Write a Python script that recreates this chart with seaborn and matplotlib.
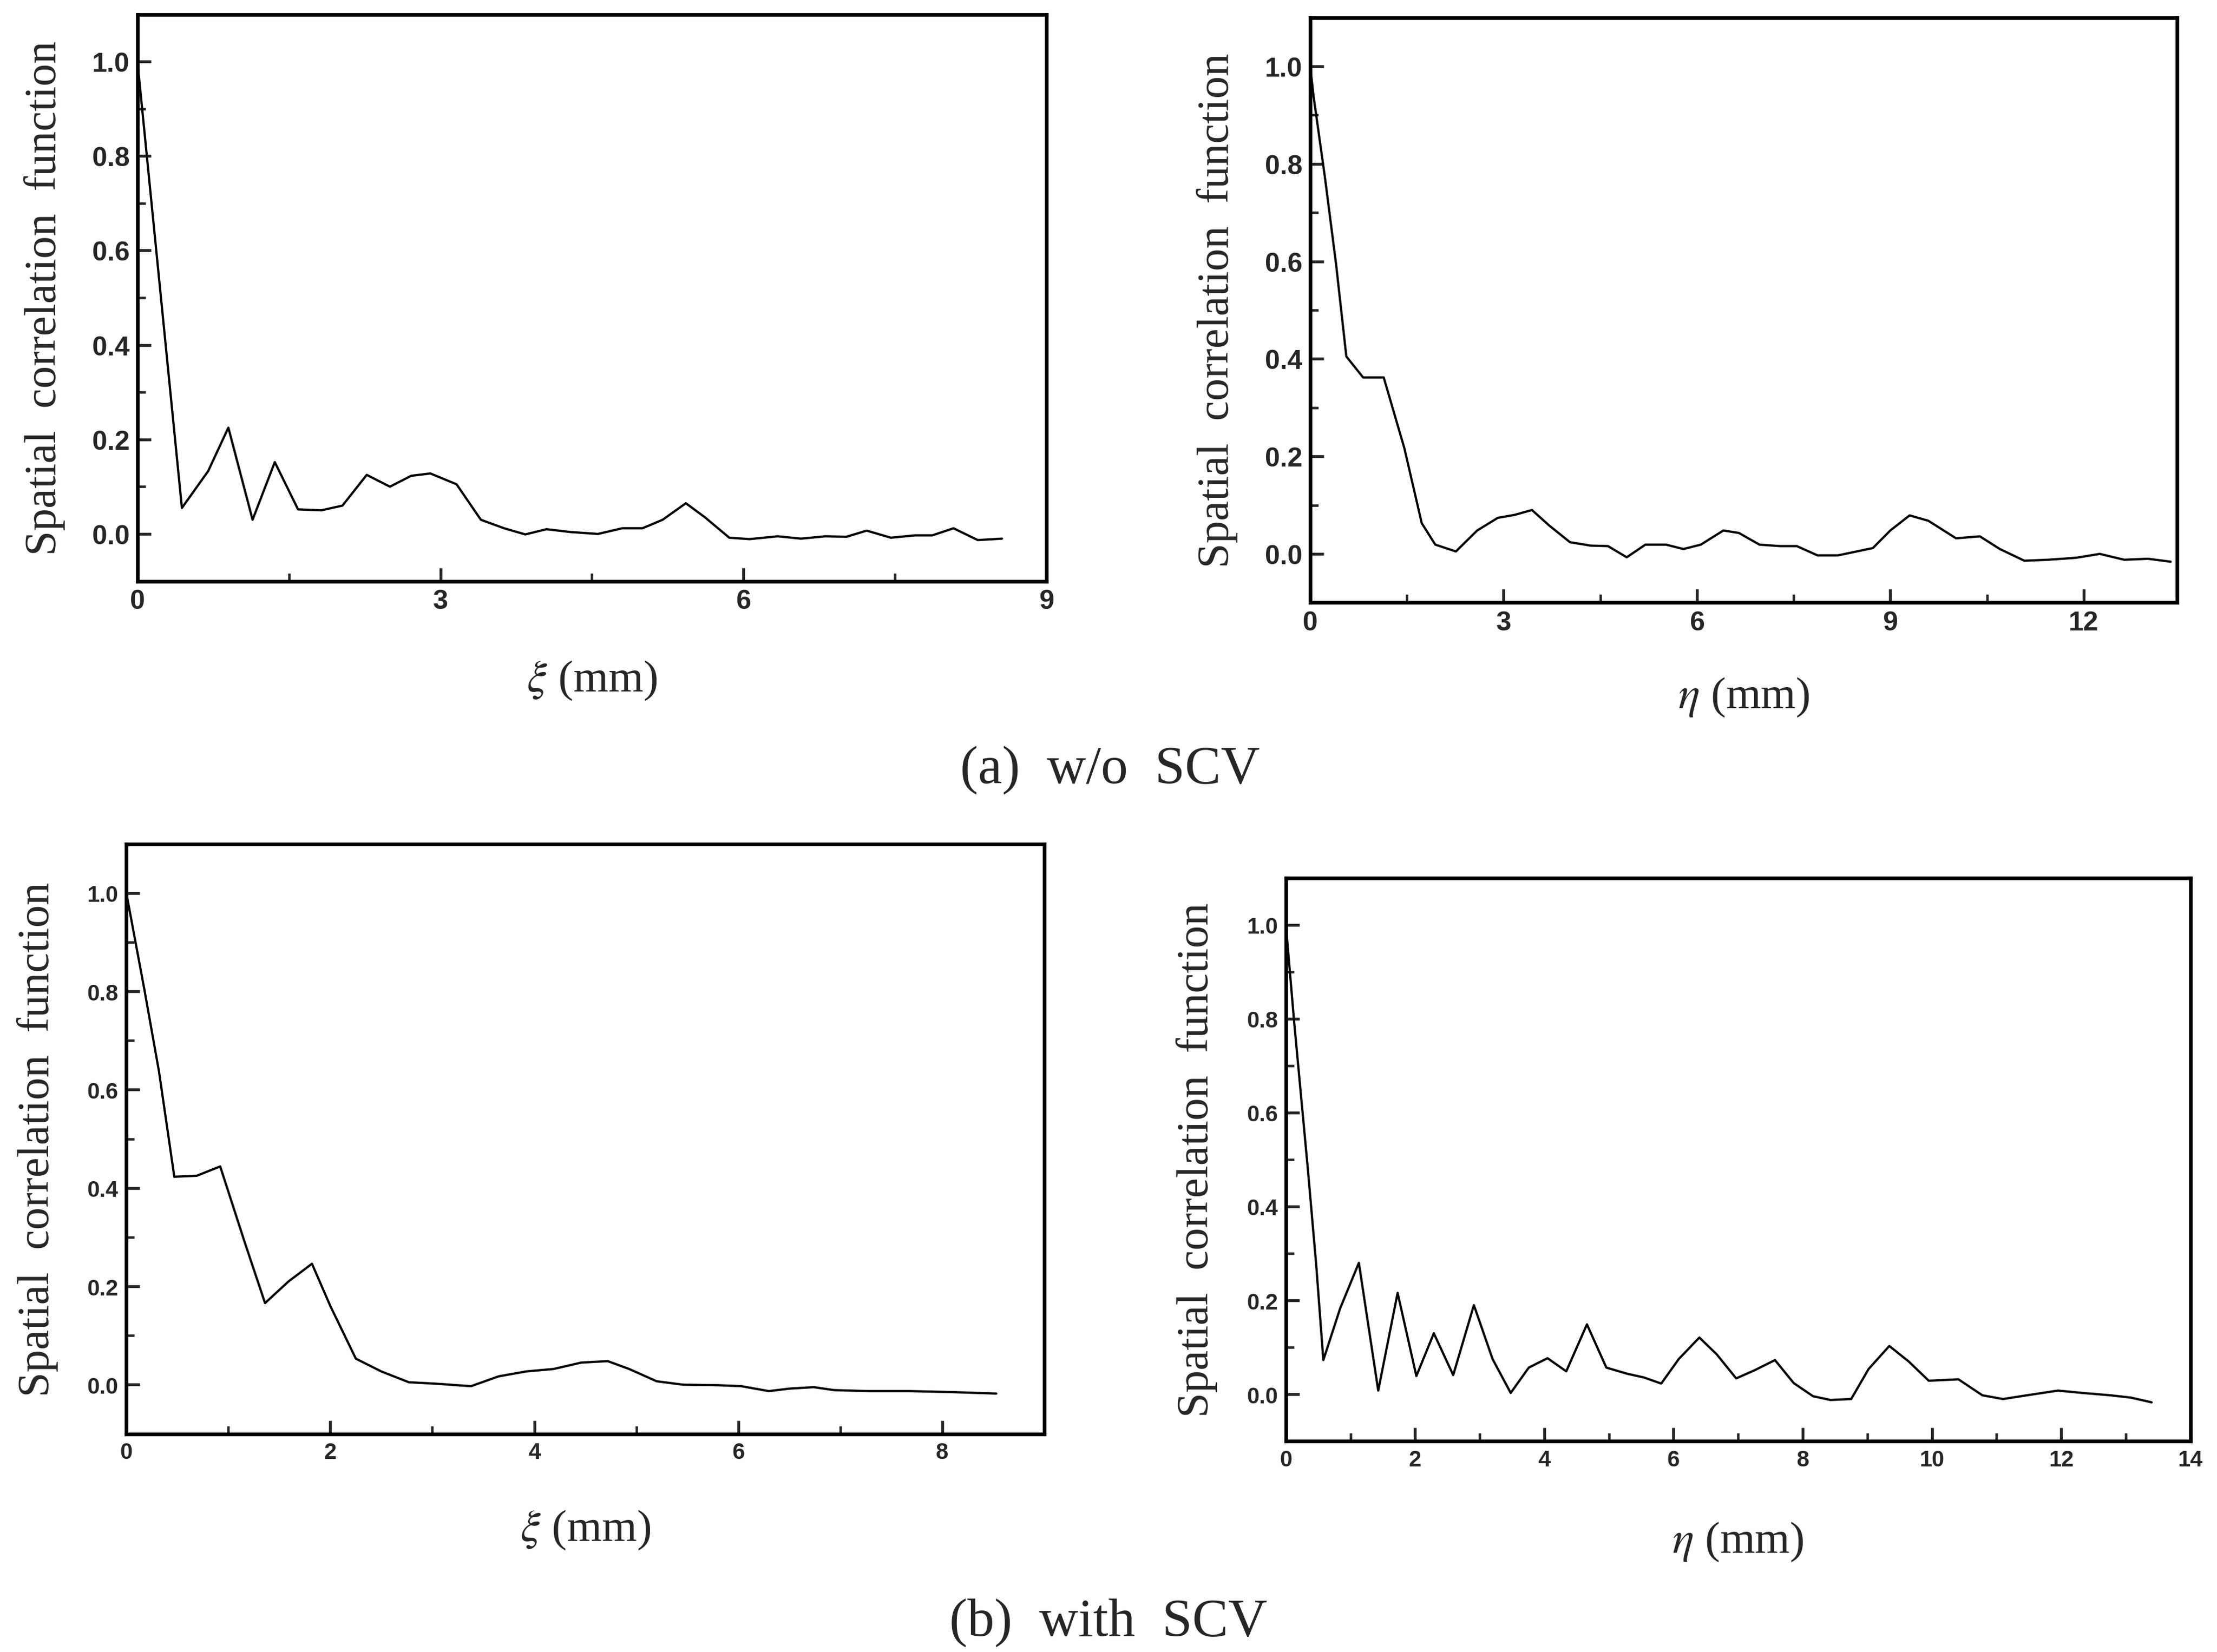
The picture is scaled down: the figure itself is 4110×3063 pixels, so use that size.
import matplotlib
matplotlib.use('Agg')
import matplotlib.pyplot as plt
import seaborn as sns
import pandas as pd
from matplotlib.ticker import MultipleLocator

# (a) w/o SCV, direction xi
xi_a = [0.0, 0.44, 0.70, 0.90, 1.14, 1.36, 1.59, 1.82, 2.03, 2.27, 2.50, 2.71, 2.90, 3.16, 3.40,
        3.63, 3.84, 4.05, 4.29, 4.56, 4.80, 5.00, 5.20, 5.43, 5.62, 5.86, 6.06, 6.34, 6.57, 6.81,
        7.02, 7.22, 7.46, 7.70, 7.87, 8.08, 8.32, 8.56]
r_xi_a = [1.0, 0.055, 0.133, 0.225, 0.03, 0.152, 0.052, 0.05, 0.06, 0.125, 0.10, 0.123, 0.128, 0.105, 0.03,
          0.012, -0.001, 0.01, 0.004, 0.0, 0.012, 0.012, 0.03, 0.065, 0.035, -0.008, -0.011, -0.005, -0.01, -0.005,
          -0.006, 0.007, -0.008, -0.003, -0.003, 0.012, -0.013, -0.01]

# (a) w/o SCV, direction eta
eta_a = [0.0, 0.05, 0.23, 0.40, 0.56, 0.82, 1.14, 1.46, 1.73, 1.94, 2.26, 2.59, 2.91, 3.17, 3.44,
         3.71, 4.03, 4.35, 4.62, 4.91, 5.20, 5.52, 5.79, 6.06, 6.41, 6.65, 6.97, 7.29, 7.55, 7.87,
         8.19, 8.73, 9.00, 9.30, 9.59, 10.02, 10.39, 10.70, 11.08, 11.45, 11.88, 12.25, 12.63, 13.00, 13.35]
r_eta_a = [1.0, 0.94, 0.77, 0.595, 0.405, 0.362, 0.362, 0.217, 0.063, 0.019, 0.005, 0.048, 0.074, 0.08, 0.09,
           0.058, 0.024, 0.017, 0.016, -0.007, 0.019, 0.019, 0.01, 0.019, 0.048, 0.043, 0.019, 0.016, 0.016, -0.003,
           -0.003, 0.012, 0.048, 0.079, 0.068, 0.032, 0.036, 0.01, -0.014, -0.012, -0.008, 0.0, -0.012, -0.01, -0.016]

# (b) with SCV, direction xi
xi_b = [0.0, 0.18, 0.32, 0.47, 0.69, 0.92, 1.16, 1.36, 1.59, 1.82, 2.00, 2.25, 2.50, 2.77, 3.04,
        3.38, 3.65, 3.92, 4.19, 4.46, 4.72, 4.93, 5.20, 5.46, 5.80, 6.03, 6.30, 6.50, 6.74, 6.94,
        7.28, 7.68, 8.09, 8.53]
r_xi_b = [1.0, 0.80, 0.637, 0.423, 0.425, 0.444, 0.29, 0.166, 0.21, 0.246, 0.16, 0.053, 0.027, 0.005, 0.002,
          -0.003, 0.017, 0.027, 0.032, 0.045, 0.048, 0.032, 0.007, 0.0, -0.001, -0.003, -0.013, -0.008, -0.005, -0.011,
          -0.013, -0.013, -0.015, -0.018]

# (b) with SCV, direction eta
eta_b = [0.0, 0.13, 0.34, 0.47, 0.58, 0.84, 1.13, 1.43, 1.73, 2.02, 2.29, 2.59, 2.91, 3.20, 3.48,
         3.76, 4.05, 4.34, 4.66, 4.96, 5.28, 5.54, 5.81, 6.08, 6.40, 6.67, 6.97, 7.25, 7.57, 7.86,
         8.16, 8.43, 8.75, 9.02, 9.34, 9.64, 9.95, 10.41, 10.78, 11.10, 11.47, 11.95, 12.33, 12.76, 13.08, 13.40]
r_eta_b = [1.0, 0.79, 0.48, 0.275, 0.073, 0.183, 0.28, 0.008, 0.216, 0.039, 0.13, 0.041, 0.19, 0.075, 0.003,
           0.057, 0.077, 0.049, 0.149, 0.057, 0.044, 0.036, 0.023, 0.075, 0.121, 0.085, 0.034, 0.051, 0.073, 0.024,
           -0.004, -0.012, -0.01, 0.054, 0.103, 0.07, 0.029, 0.032, -0.002, -0.01, -0.002, 0.008, 0.003, -0.002, -0.007, -0.017]

captions = ['(a)  w/o  SCV', '(b)  with  SCV']
ylabel = 'Spatial  correlation  function'

sns.set_style('ticks')
plt.rcParams['font.family'] = ['Liberation Serif', 'DejaVu Serif']
plt.rcParams['mathtext.fontset'] = 'stix'

fig = plt.figure(figsize=(13.7, 10.2133), dpi=300)

panels = [
    # x, y, axes rect, xlim, major, minor, xlabel, tick size, xlabel pad, ylabel pad
    (xi_a, r_xi_a, [0.062, 0.648, 0.410, 0.343], 9, 3, 1.5, r'$\xi$ (mm)', 12, 20, 12),
    (eta_a, r_eta_a, [0.591, 0.635, 0.391, 0.354], 13.45, 3, 1.5, r'$\eta$ (mm)', 12, 18, 12),
    (xi_b, r_xi_b, [0.057, 0.132, 0.414, 0.357], 9, 2, 1, r'$\xi$ (mm)', 10, 20, 13),
    (eta_b, r_eta_b, [0.580, 0.1275, 0.408, 0.341], 14, 2, 1, r'$\eta$ (mm)', 10, 22, 13),
]

for x, y, rect, xmax, major, minor, xlab, tsize, xpad, ypad in panels:
    ax = fig.add_axes(rect)
    df = pd.DataFrame({'x': x, 'y': y})
    sns.lineplot(data=df, x='x', y='y', ax=ax, color='black', linewidth=1.0)
    ax.set_xlim(0, xmax)
    ax.set_ylim(-0.1, 1.1)
    ax.xaxis.set_major_locator(MultipleLocator(major))
    ax.xaxis.set_minor_locator(MultipleLocator(minor))
    ax.yaxis.set_minor_locator(MultipleLocator(0.1))
    ax.set_yticks([0.0, 0.2, 0.4, 0.6, 0.8, 1.0])
    ax.set_yticklabels(['0.0', '0.2', '0.4', '0.6', '0.8', '1.0'])
    ax.tick_params(which='major', direction='in', length=6, width=1.3, top=False, right=False)
    ax.tick_params(which='minor', direction='in', length=3.5, width=1.1, top=False, right=False)
    for lab in ax.get_xticklabels() + ax.get_yticklabels():
        lab.set_fontfamily('Liberation Sans')
        lab.set_fontweight('bold')
        lab.set_fontsize(tsize)
    for sp in ax.spines.values():
        sp.set_visible(True)
        sp.set_linewidth(1.6)
        sp.set_color('black')
    ax.set_xlabel(xlab, fontsize=20, labelpad=xpad)
    ax.set_ylabel(ylabel, fontsize=20, labelpad=ypad)

fig.text(0.5006, 0.534, captions[0], ha='center', va='center', fontsize=24)
fig.text(0.5, 0.018, captions[1], ha='center', va='center', fontsize=24)

fig.savefig('out.png', dpi=300, facecolor='white')
